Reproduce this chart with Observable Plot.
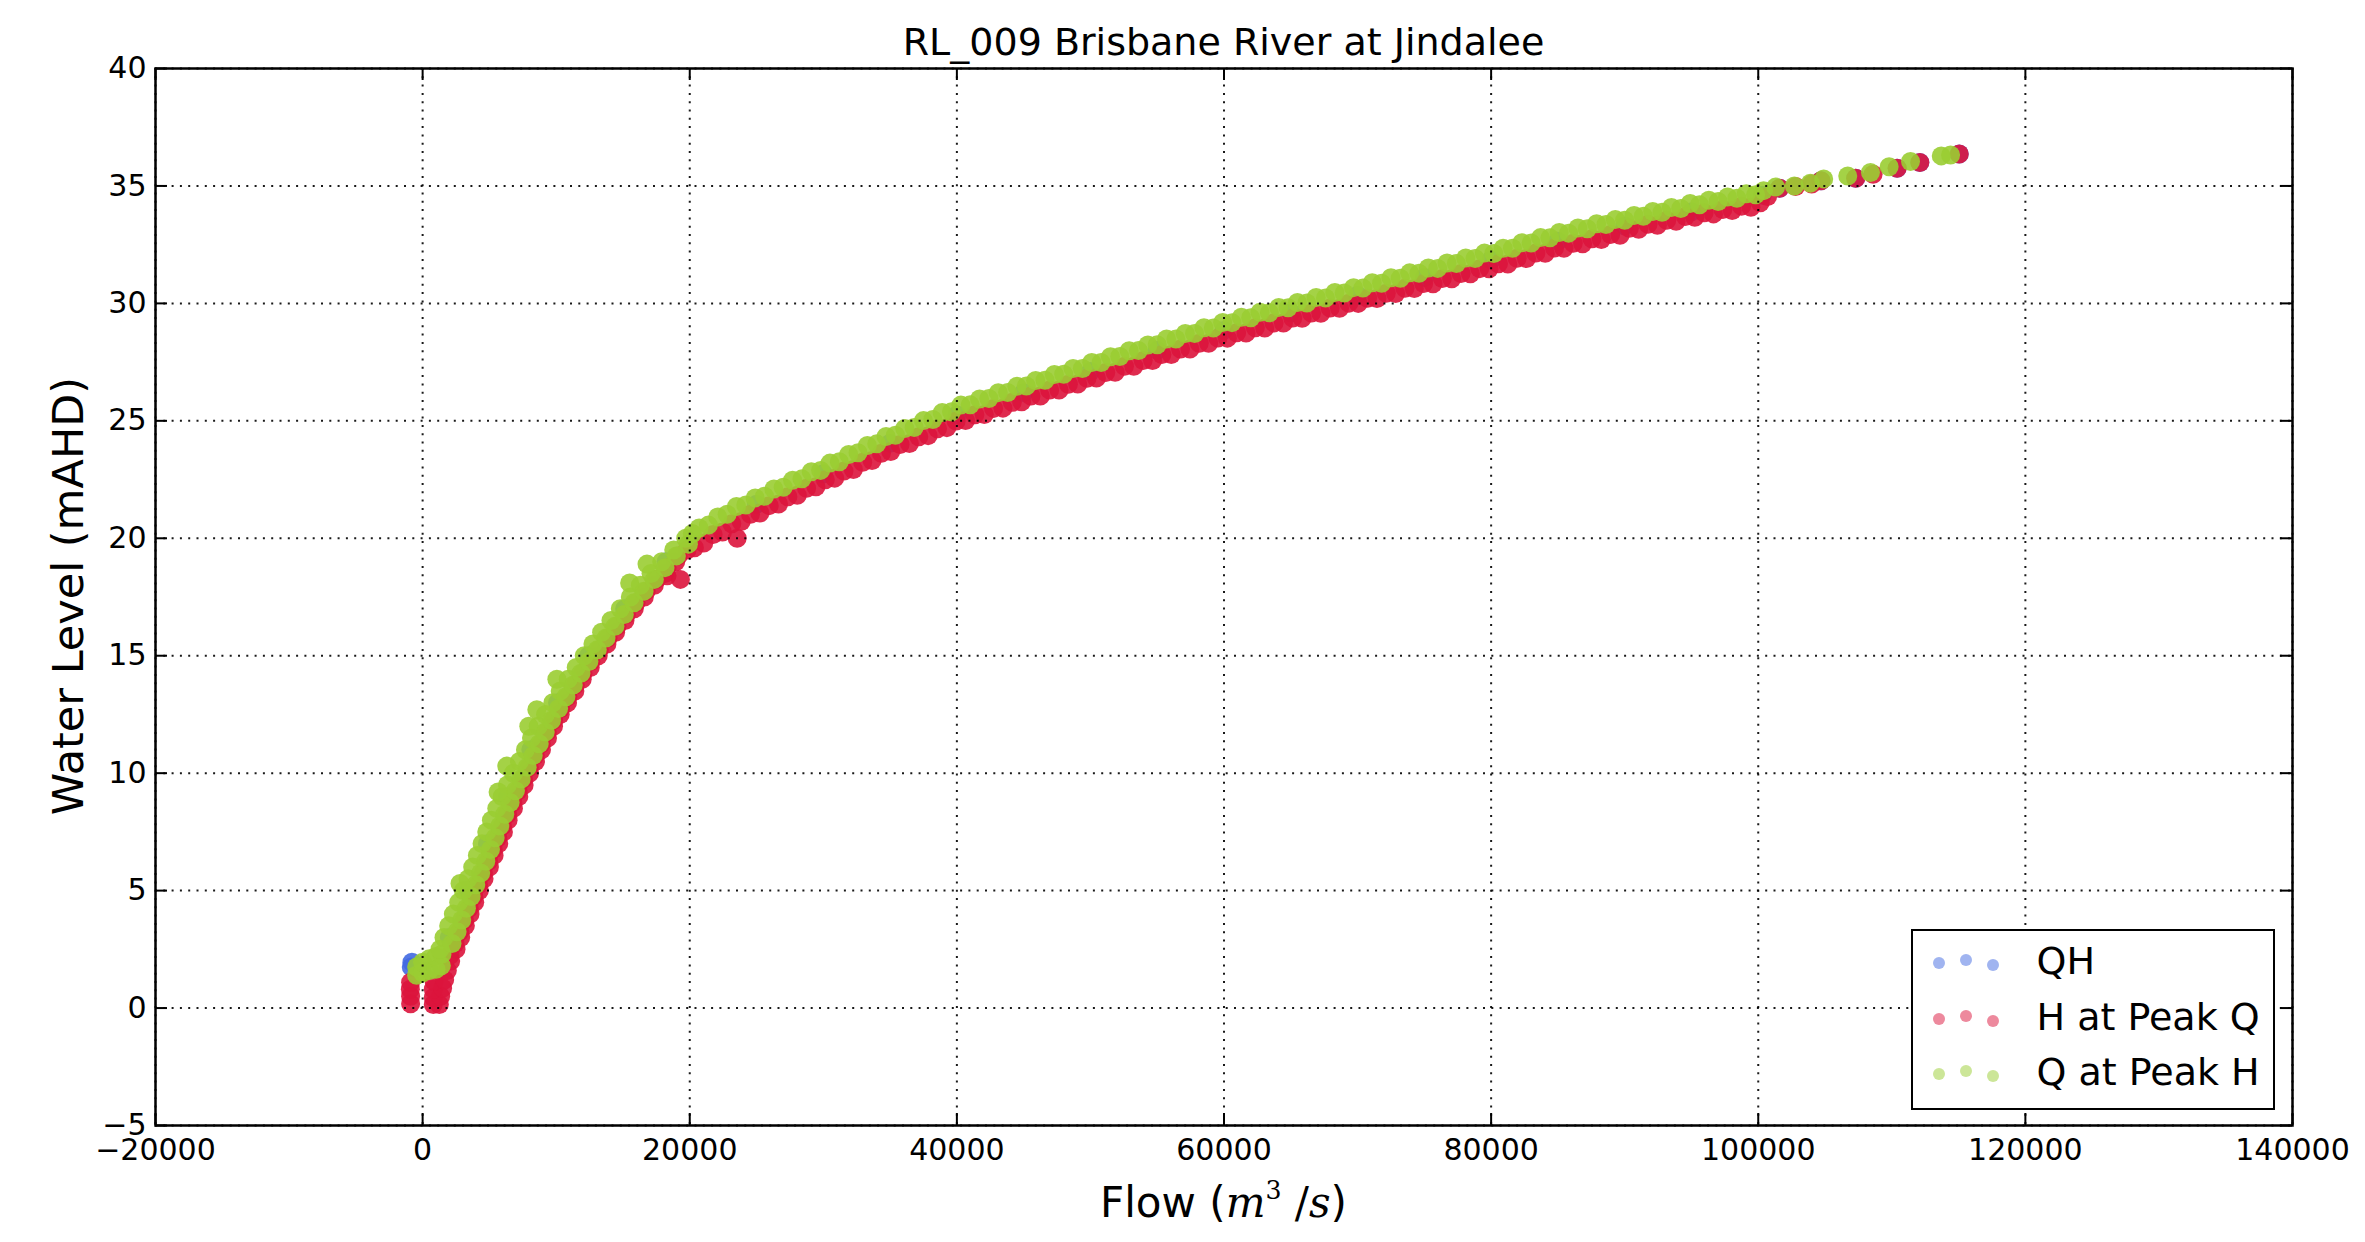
<!DOCTYPE html>
<html><head><meta charset="utf-8">
<script src="https://cdn.jsdelivr.net/npm/d3@7"></script>
<script src="https://cdn.jsdelivr.net/npm/@observablehq/plot@0.6"></script>
<style>
body{margin:0;background:#fff;font-family:"DejaVu Sans",sans-serif;color:#000;}
#wrap{position:relative;width:2365px;height:1242px;overflow:hidden;}
#title{margin-left:155px;width:2137px;text-align:center;font-size:38px;height:46px;line-height:46px;padding-top:19px;white-space:nowrap;}
#chart svg{display:block;}
#xlabel{margin-left:155px;width:2137px;text-align:center;font-size:42px;height:66px;line-height:66px;white-space:nowrap;}
#xlabel .m{font-family:"DejaVu Serif",serif;font-style:italic;}
#xlabel .r{font-family:"DejaVu Serif",serif;}
#xlabel sup{font-family:"DejaVu Serif",serif;font-size:60%;vertical-align:0.7em;line-height:0;}
#ylabel{position:absolute;left:68px;top:596px;transform:translate(-50%,-50%) rotate(-90deg);font-size:43px;white-space:nowrap;}
#legend{position:absolute;left:1911px;top:929px;width:364px;height:181px;box-sizing:border-box;border:2.5px solid #000;background:#fff;}
#legend .lt{position:absolute;font-size:38px;height:50px;line-height:50px;white-space:nowrap;}
#legend .ld{position:absolute;width:12px;height:12px;border-radius:50%;}
</style></head><body>
<div id="wrap">
<div id="title"></div>
<div id="chart"></div>
<div id="xlabel">Flow (<span class="m">m</span><sup>3</sup> <span class="r">/</span><span class="m">s</span>)</div>
<div id="ylabel"></div>
<div id="legend"></div>
</div>
<script>
const titleText = "RL_009 Brisbane River at Jindalee";
const yLabelText = "Water Level (mAHD)";
const xTicks = [-20000, 0, 20000, 40000, 60000, 80000, 100000, 120000, 140000];
const yTicks = [-5, 0, 5, 10, 15, 20, 25, 30, 35, 40];
const seriesNames = ["QH", "H at Peak Q", "Q at Peak H"];
const seriesColors = ["#4169e1", "#dc143c", "#9acd32"];

// QH (mostly hidden beneath the other two series)
const qhPoints = [
  [-850,1.75],[-800,1.95],
  [2000,3.0],[3430,5.0],[4850,7.0],[6350,9.0],[8100,11.0],[10100,13.0],[12430,15.0],[15130,17.0],[18230,19.0],
  [25000,21.45],[30000,22.75],[35000,24.05],[40000,25.25],[45000,26.2],[50000,27.1],[55000,28.0],[60000,28.85],
  [65000,29.6],[70000,30.35],[75000,31.1],[80000,31.85],[85000,32.65],[90000,33.3],[95000,33.9],
  [100300,34.6],[101600,34.9],[104700,35.22],[107300,35.33],[110400,35.75],[112100,36.0],[115050,36.36]
];

// H at Peak Q
const hAtPeakQPoints = [
  [-900,0.18],[-900,0.5],[-920,0.8],[-900,1.1],
  [800,0.15],[1250,0.15],[800,0.45],[1350,0.5],[800,0.8],[1500,0.85],[850,1.15],[1650,1.2],[1850,1.6],
  [2100,2.0],[2500,2.5],[2850,3.0],[3200,3.5],[3550,4.0],[3900,4.5],[4250,5.0],[4600,5.5],[5000,6.0],[5350,6.5],
  [5700,7.0],[6050,7.5],[6400,8.0],[6800,8.5],[7200,9.0],[7600,9.5],[8000,10.0],[8450,10.5],[8900,11.0],[9350,11.5],
  [9800,12.0],[10300,12.5],[10850,13.0],[11400,13.5],[11950,14.0],[12550,14.5],[13150,15.0],[13800,15.5],[14450,16.0],
  [15150,16.5],[15850,17.0],[16600,17.5],[17350,18.0],[18150,18.5],[18950,19.0],[19800,19.5],
  [2050,2.25],[2430,2.75],[2780,3.25],[3130,3.75],[3480,4.25],[3830,4.75],[4180,5.25],[4550,5.75],[4930,6.25],
  [5280,6.75],[5630,7.25],[5980,7.75],[6350,8.25],[6750,8.75],[7150,9.25],[7550,9.75],[7980,10.25],[8430,10.75],
  [8880,11.25],[9330,11.75],[9800,12.25],[10330,12.75],[10880,13.25],[11430,13.75],[12000,14.25],[12600,14.75],
  [13230,15.25],[13880,15.75],[14550,16.25],[15250,16.75],[15980,17.25],[16730,17.75],[17500,18.25],[18300,18.75],
  [19130,19.25],[20350,19.6],
  [18300,18.4],[19300,18.25],[23550,20.0],
  [21050,19.80],[21750,20.16],[22450,20.27],[23150,20.62],[23850,20.71],[24550,21.02],[25250,21.08],[25950,21.39],
  [26650,21.46],[27350,21.77],[28050,21.83],[28750,22.13],[29450,22.19],[30150,22.49],[30850,22.56],[31550,22.86],
  [32250,22.93],[32950,23.24],[33650,23.31],[34350,23.62],[35050,23.69],[35750,23.99],[36450,24.03],[37150,24.32],
  [37850,24.37],[38550,24.66],[39250,24.71],[39950,24.99],[40650,25.01],[41350,25.26],[42050,25.27],[42750,25.53],
  [43450,25.54],[44150,25.79],[44850,25.81],[45550,26.06],[46250,26.06],[46950,26.31],[47650,26.31],[48350,26.56],
  [49050,26.57],[49750,26.81],[50450,26.82],[51150,27.06],[51850,27.07],[52550,27.32],[53250,27.32],[53950,27.57],
  [54650,27.57],[55350,27.82],[56050,27.82],[56750,28.06],[57450,28.06],[58150,28.30],[58850,28.30],[59550,28.53],
  [60250,28.52],[60950,28.75],[61650,28.74],[62350,28.96],[63050,28.95],[63750,29.17],[64450,29.16],[65150,29.38],
  [65850,29.37],[66550,29.59],[67250,29.58],[67950,29.80],[68650,29.79],[69350,30.01],[70050,30.00],[70750,30.22],
  [71450,30.21],[72150,30.43],[72850,30.42],[73550,30.64],[74250,30.63],[74950,30.85],[75650,30.84],[76350,31.06],
  [77050,31.05],[77750,31.27],[78450,31.26],[79150,31.48],[79850,31.47],[80550,31.69],[81250,31.68],[81950,31.92],
  [82650,31.91],[83350,32.14],[84050,32.13],[84750,32.36],[85450,32.35],[86150,32.56],[86850,32.54],[87550,32.75],
  [88250,32.72],[88950,32.93],[89650,32.90],[90350,33.20],[91050,33.16],[91750,33.37],[92450,33.33],[93150,33.54],
  [93850,33.50],[94550,33.70],[95250,33.67],[95950,33.86],[96650,33.81],[97350,34.00],[98050,33.95],[98750,34.14],
  [99450,34.09],[100150,34.28],
  [100700,34.55],[101600,34.9],[102800,34.98],[104000,35.08],[104700,35.22],[107300,35.33],[108600,35.5],
  [110400,35.75],[112100,36.0],[115050,36.36]
];

// Q at Peak H
const qAtPeakHPoints = [
  [-450,1.4],[-450,1.75],[0,1.5],[0,1.95],[500,1.6],[500,2.1],[1000,1.65],[1000,2.2],[1400,1.8],[1450,2.3],
  [1300,2.5],[1600,3.0],[1950,3.5],[2300,4.0],[2700,4.5],[3050,5.0],[3400,5.5],[3750,6.0],[4100,6.5],[4450,7.0],
  [4800,7.5],[5150,8.0],[5550,8.5],[5950,9.0],[6350,9.5],[6800,10.0],[7250,10.5],[7700,11.0],[8150,11.5],[8650,12.0],
  [9200,12.5],[9750,13.0],[10300,13.5],[10900,14.0],[11500,14.5],[12100,15.0],[12750,15.5],[13400,16.0],[14100,16.5],
  [14800,17.0],[15550,17.5],[16300,18.0],[17100,18.5],[17900,19.0],[18800,19.5],[19700,20.0],
  [2200,2.75],[2580,3.25],[2930,3.75],[3280,4.25],[3630,4.75],[3980,5.25],[4350,5.75],[4730,6.25],[5080,6.75],
  [5430,7.25],[5780,7.75],[6150,8.25],[6550,8.75],[6950,9.25],[7380,9.75],[7830,10.25],[8280,10.75],[8730,11.25],
  [9180,11.75],[9650,12.25],[10180,12.75],[10730,13.25],[11280,13.75],[11850,14.25],[12450,14.75],[13080,15.25],
  [13730,15.75],[14400,16.25],[15100,16.75],[15830,17.25],[16580,17.75],[17350,18.25],[18150,18.75],[19000,19.25],
  [19900,19.75],[20200,20.2],
  [2800,5.3],[5650,9.2],[6300,10.3],[7950,12.0],[8550,12.7],[10050,14.0],[15500,18.1],[16800,18.9],
  [20700,20.44],[21400,20.56],[22100,20.91],[22800,21.02],[23500,21.35],[24200,21.42],[24900,21.72],[25600,21.79],
  [26300,22.10],[27000,22.17],[27700,22.47],[28400,22.53],[29100,22.83],[29800,22.89],[30500,23.20],[31200,23.26],
  [31900,23.57],[32600,23.64],[33300,23.95],[34000,24.02],[34700,24.33],[35400,24.39],[36100,24.67],[36800,24.72],
  [37500,25.01],[38200,25.06],[38900,25.35],[39600,25.39],[40300,25.67],[41000,25.68],[41700,25.93],[42400,25.95],
  [43100,26.20],[43800,26.21],[44500,26.47],[45200,26.48],[45900,26.72],[46600,26.73],[47300,26.97],[48000,26.98],
  [48700,27.23],[49400,27.23],[50100,27.48],[50800,27.48],[51500,27.73],[52200,27.74],[52900,27.98],[53600,27.99],
  [54300,28.23],[55000,28.24],[55700,28.48],[56400,28.48],[57100,28.72],[57800,28.72],[58500,28.96],[59200,28.95],
  [59900,29.19],[60600,29.18],[61300,29.41],[62000,29.39],[62700,29.62],[63400,29.60],[64100,29.83],[64800,29.81],
  [65500,30.04],[66200,30.02],[66900,30.25],[67600,30.23],[68300,30.46],[69000,30.44],[69700,30.67],[70400,30.65],
  [71100,30.88],[71800,30.86],[72500,31.09],[73200,31.07],[73900,31.30],[74600,31.28],[75300,31.51],[76000,31.49],
  [76700,31.72],[77400,31.70],[78100,31.93],[78800,31.91],[79500,32.14],[80200,32.12],[80900,32.35],[81600,32.35],
  [82300,32.58],[83000,32.57],[83700,32.80],[84400,32.79],[85100,33.02],[85800,32.99],[86500,33.21],[87200,33.18],
  [87900,33.39],[88600,33.36],[89300,33.57],[90000,33.54],[90700,33.74],[91400,33.71],[92100,33.91],[92800,33.88],
  [93500,34.08],[94200,34.04],[94900,34.25],[95600,34.20],[96300,34.39],[97000,34.34],[97700,34.53],[98400,34.48],
  [99100,34.67],[99800,34.62],
  [100400,34.8],[101300,34.95],[102700,35.0],[103900,35.12],[104900,35.3],[106700,35.42],[108400,35.57],
  [109800,35.82],[111400,36.04],[113700,36.28],[114400,36.32]
];

document.getElementById("title").textContent = titleText;
document.getElementById("ylabel").textContent = yLabelText;

const W = 2365, H = 1105, mL = 155, mR = 73, mT = 3, mB = 45;
const innerW = W - mL - mR, innerH = H - mT - mB;
const tickLen = 12;
const fmt = d => d < 0 ? "\u2212" + Math.abs(d) : String(d);

const rows = [];
[qhPoints, hAtPeakQPoints, qAtPeakHPoints].forEach((pts, i) =>
  pts.forEach(([q, h]) => rows.push({q, h, series: seriesNames[i]})));

const grid = {stroke: "black", strokeWidth: 2, strokeDasharray: "2,6.3", strokeOpacity: 0.9};
const tick = {stroke: "black", strokeWidth: 2};

const chart = Plot.plot({
  width: W, height: H,
  marginLeft: mL, marginRight: mR, marginTop: mT, marginBottom: mB,
  style: {fontFamily: "DejaVu Sans", fontSize: "30px", overflow: "visible", background: "transparent", color: "black"},
  x: {domain: [-20000, 140000]},
  y: {domain: [-5, 40]},
  color: {domain: seriesNames, range: seriesColors},
  marks: [
    Plot.dot(rows, {x: "q", y: "h", fill: "series", r: 9.5, fillOpacity: 0.9}),
    Plot.ruleX(xTicks, {x: d => d, ...grid}),
    Plot.ruleY(yTicks, {y: d => d, ...grid}),
    Plot.frame({stroke: "black", strokeWidth: 2.5}),
    Plot.ruleX(xTicks, {x: d => d, ...tick, insetTop: innerH - tickLen}),
    Plot.ruleX(xTicks, {x: d => d, ...tick, insetBottom: innerH - tickLen}),
    Plot.ruleY(yTicks, {y: d => d, ...tick, insetRight: innerW - tickLen}),
    Plot.ruleY(yTicks, {y: d => d, ...tick, insetLeft: innerW - tickLen}),
    Plot.axisX({ticks: xTicks, tickSize: 0, tickPadding: 13, tickFormat: fmt, label: null, fontSize: 30}),
    Plot.axisY({ticks: yTicks, tickSize: 0, tickPadding: 9, tickFormat: fmt, label: null, fontSize: 30})
  ]
});
document.getElementById("chart").appendChild(chart);

// legend
const legend = document.getElementById("legend");
const dotDx = [25.5, 52.5, 79.5], dotDy = [0, -3, 2];
seriesNames.forEach((name, i) => {
  const cy = 30 + 55.5 * i;
  dotDx.forEach((dx, j) => {
    const d = document.createElement("div");
    d.className = "ld";
    const c = d3.color(seriesColors[i]); c.opacity = 0.5;
    d.style.background = c.formatRgb();
    d.style.left = (dx - 6) + "px";
    d.style.top = (cy + 2 + dotDy[j] - 6) + "px";
    legend.appendChild(d);
  });
  const t = document.createElement("div");
  t.className = "lt";
  t.textContent = name;
  t.style.left = "123.5px";
  t.style.top = (cy - 25) + "px";
  legend.appendChild(t);
});
</script>
</body></html>
